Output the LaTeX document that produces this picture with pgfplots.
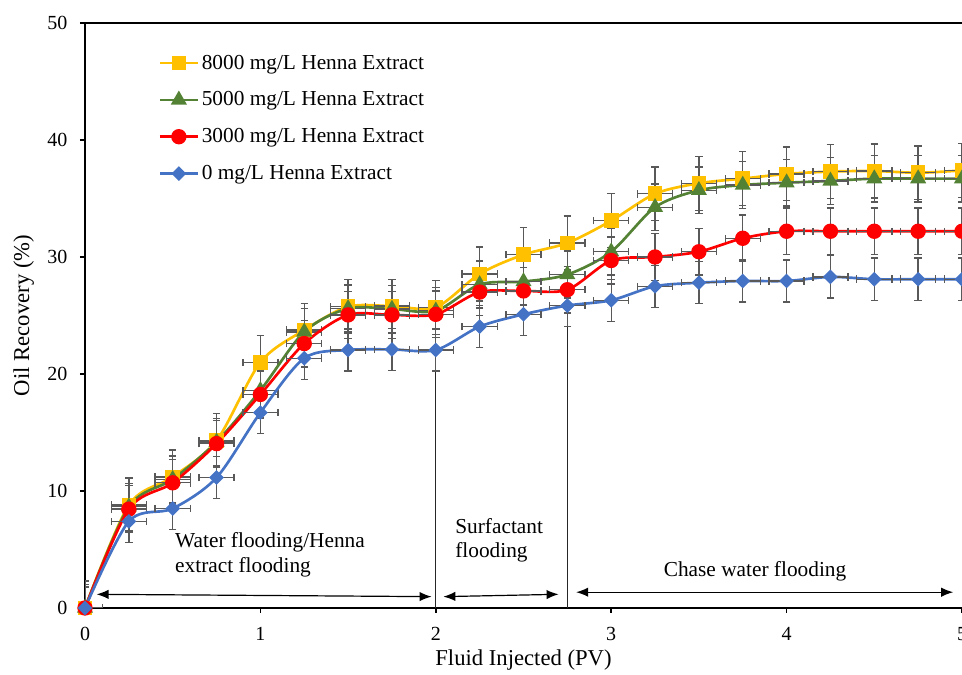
\documentclass[border=0pt]{standalone}
\usepackage{pgfplots}
\usepackage{pgfplotstable}
\pgfplotsset{compat=1.18}
\usepackage{fontspec}
\setmainfont{Liberation Serif}
\usetikzlibrary{arrows.meta}

\definecolor{cYellow}{HTML}{FFC000}
\definecolor{cGreen}{HTML}{548235}
\definecolor{cRed}{HTML}{FF0000}
\definecolor{cBlue}{HTML}{4472C4}
\definecolor{cErr}{HTML}{595959}

% Oil recovery (%) versus injected pore volumes, one table per concentration
\pgfplotstableread{
x    y
0    0
0.25 8.8
0.5  11.2
0.75 14.3
1.0  21.0
1.25 23.75
1.5  25.75
1.75 25.8
2.0  25.7
2.25 28.55
2.5  30.2
2.75 31.2
3.0  33.1
3.25 35.4
3.5  36.3
3.75 36.7
4.0  37.1
4.25 37.3
4.5  37.35
4.75 37.2
5.0  37.4
}\tblEight
\pgfplotstableread{
x    y
0    0
0.25 8.65
0.5  11.0
0.75 14.2
1.0  18.6
1.25 23.6
1.5  25.6
1.75 25.55
2.0  25.4
2.25 27.65
2.5  27.9
2.75 28.5
3.0  30.45
3.25 34.25
3.5  35.7
3.75 36.15
4.0  36.35
4.25 36.5
4.5  36.7
4.75 36.7
5.0  36.7
}\tblFive
\pgfplotstableread{
x    y
0    0
0.25 8.45
0.5  10.7
0.75 14.05
1.0  18.25
1.25 22.6
1.5  25.05
1.75 25.05
2.0  25.1
2.25 27.0
2.5  27.1
2.75 27.2
3.0  29.7
3.25 30.0
3.5  30.45
3.75 31.6
4.0  32.2
4.25 32.2
4.5  32.2
4.75 32.2
5.0  32.2
}\tblThree
\pgfplotstableread{
x    y
0    0
0.25 7.4
0.5  8.5
0.75 11.15
1.0  16.7
1.25 21.35
1.5  22.05
1.75 22.1
2.0  22.05
2.25 24.05
2.5  25.1
2.75 25.85
3.0  26.3
3.25 27.5
3.5  27.8
3.75 27.95
4.0  27.95
4.25 28.3
4.5  28.1
4.75 28.1
5.0  28.1
}\tblZero

\pgfplotsset{
  errstyle/.style={
    error bars/.cd,
      x dir=both, x fixed=0.1,
      y dir=both, y fixed=#1,
      error bar style={color=cErr, line width=1pt, solid},
      error mark options={rotate=90, color=cErr, mark size=2.8pt, line width=1pt},
  },
}

\begin{document}
\begin{tikzpicture}
\begin{axis}[
  name=ax,
  scale only axis,
  width=657.75pt, height=438.75pt,
  xmin=0, xmax=5, ymin=0, ymax=50,
  xtick={0,1,2,3,4,5}, ytick={0,10,20,30,40,50},
  axis lines*=left,
  axis line style={line width=1.2pt, black, -},
  tick style={line width=1.2pt, black},
  major tick length=3.75pt,
  tick align=outside,
  /pgf/number format/assume math mode=true,
  ticklabel style={font=\fontsize{15}{18}\selectfont},
  yticklabel style={xshift=-6pt},
  xticklabel style={yshift=-7pt},
  xlabel={Fluid Injected (PV)},
  ylabel={Oil Recovery (\%)},
  label style={font=\fontsize{17}{20}\selectfont},
  every axis x label/.append style={at={(axis description cs:0.5,-0.089)}, anchor=center},
  every axis y label/.append style={at={(axis description cs:-0.07,0.5)}, anchor=center},
  legend style={
    at={(axis description cs:0.079,0.955)}, anchor=north west,
    draw=none, fill=none, row sep=11.5pt,
    font=\fontsize{16}{16}\selectfont,
  },
  legend cell align=left,
  legend image code/.code={
    \draw[mark repeat=2,mark phase=2,#1] plot coordinates {(0cm,0cm) (0.5cm,0cm) (1cm,0cm)};
  },
]
% phase boundaries
\addplot[black!85, line width=1pt, forget plot] coordinates {(2,0) (2,22.05)};
\addplot[black!85, line width=1pt, forget plot] coordinates {(2.75,0) (2.75,25.85)};

\addplot[cYellow, line width=2pt, smooth, mark=square*, mark size=4.5pt,
  mark options={solid, fill=cYellow, draw=cYellow}, errstyle=2.3]
  table[x=x, y=y] {\tblEight};
\addlegendentry{8000 mg/L Henna Extract}

\addplot[cGreen, line width=2pt, smooth, mark=triangle*, mark size=5pt,
  mark options={solid, fill=cGreen, draw=cGreen}, errstyle=2.0]
  table[x=x, y=y] {\tblFive};
\addlegendentry{5000 mg/L Henna Extract}

\addplot[cRed, line width=2pt, smooth, mark=*, mark size=4.75pt,
  mark options={solid, fill=cRed, draw=cRed}, errstyle=2.0]
  table[x=x, y=y] {\tblThree};
\addlegendentry{3000 mg/L Henna Extract}

\addplot[cBlue, line width=2pt, smooth, mark=square*, mark size=2.9pt,
  mark options={solid, fill=cBlue, draw=cBlue, rotate=45}, errstyle=1.8]
  table[x=x, y=y] {\tblZero};
\addlegendentry{0 mg/L Henna Extract}

% flooding stages
\draw[black, line width=0.9pt, {Latex[length=9pt,width=7pt]}-{Latex[length=9pt,width=7pt]}]
  (axis cs:0.066,1.17) -- (axis cs:1.976,0.97);
\draw[black, line width=0.9pt, {Latex[length=9pt,width=7pt]}-{Latex[length=9pt,width=7pt]}]
  (axis cs:2.043,0.97) -- (axis cs:2.70,1.17);
\draw[black, line width=0.9pt, {Latex[length=9pt,width=7pt]}-{Latex[length=9pt,width=7pt]}]
  (axis cs:2.80,1.35) -- (axis cs:4.95,1.35);

\node[anchor=west, align=left, inner sep=0pt, font=\fontsize{16}{18.3}\selectfont]
  at (axis cs:0.513,4.55) {Water flooding/Henna\\extract flooding};
\node[anchor=west, align=left, inner sep=0pt, font=\fontsize{16}{18.3}\selectfont]
  at (axis cs:2.11,5.8) {Surfactant\\flooding};
\node[anchor=center, inner sep=0pt, font=\fontsize{16}{18.3}\selectfont]
  at (axis cs:3.82,3.1) {Chase water flooding};
\end{axis}
% top border of the plot area
\draw[black, line width=1.2pt] ([xshift=-3.75pt]ax.north west) -- (ax.north east);
\pgfresetboundingbox
\path[use as bounding box] ([xshift=-63.75pt, yshift=-50.25pt]ax.south west)
  rectangle ([yshift=17.25pt]ax.north east);
\end{tikzpicture}
\end{document}
